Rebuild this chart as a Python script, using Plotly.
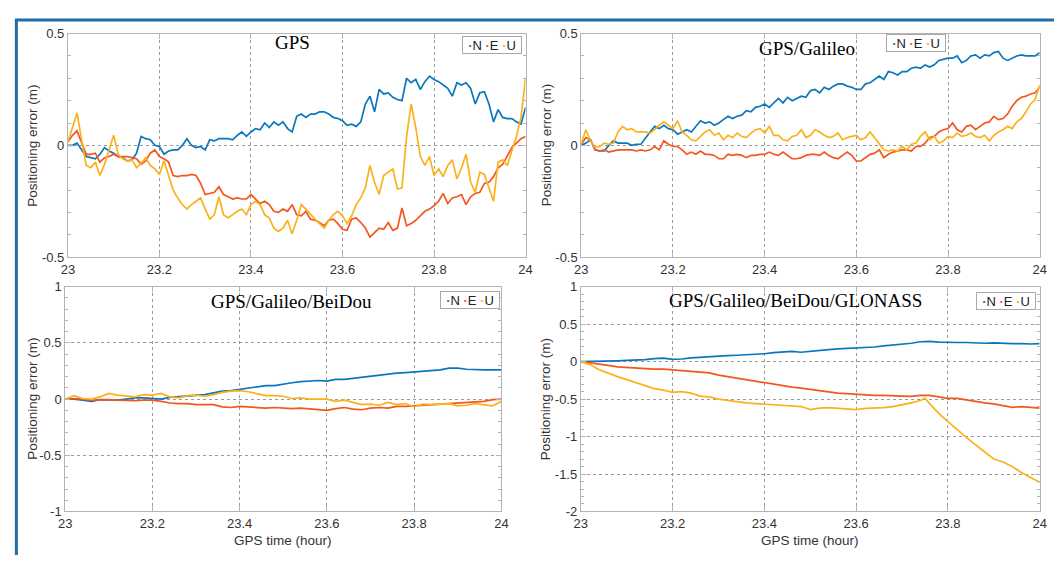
import numpy as np
import plotly.graph_objects as go

W, H = 1061, 563          # browser window (page has no margin)

# ---------------- data ----------------
t_top = list(np.round(np.arange(101) * 0.01 + 23.0, 2))
t_bot = list(np.round(np.arange(51) * 0.02 + 23.0, 2))
t_glo_u = t_bot[:38] + [23.75] + t_bot[38:]

gps_N = [0.00, 0.00, 0.01, -0.02, -0.05, -0.055, -0.06, -0.04, -0.01, -0.025,
         -0.035, -0.05, -0.055, -0.07, -0.065, -0.035, 0.04, 0.03, 0.025, 0.00,
         -0.005, -0.04, -0.025, -0.02, -0.02, 0.00, 0.03, 0.00, -0.01, -0.005,
         -0.02, 0.025, 0.02, 0.03, 0.03, 0.03, 0.025, 0.045, 0.06, 0.04,
         0.06, 0.075, 0.07, 0.10, 0.08, 0.105, 0.09, 0.105, 0.075, 0.06,
         0.13, 0.14, 0.125, 0.14, 0.14, 0.15, 0.15, 0.14, 0.125, 0.12,
         0.11, 0.09, 0.095, 0.085, 0.105, 0.185, 0.22, 0.15, 0.25, 0.23,
         0.235, 0.215, 0.205, 0.20, 0.30, 0.28, 0.295, 0.25, 0.285, 0.31,
         0.295, 0.285, 0.27, 0.255, 0.22, 0.28, 0.27, 0.28, 0.255, 0.185,
         0.235, 0.24, 0.185, 0.105, 0.16, 0.125, 0.12, 0.12, 0.105, 0.095,
         0.17]
gps_E = [0.015, 0.045, 0.065, 0.01, -0.04, -0.04, -0.035, -0.075, -0.055, -0.05,
         -0.04, -0.05, -0.05, -0.05, -0.055, -0.06, -0.085, -0.07, -0.035, -0.02,
         -0.05, -0.06, -0.075, -0.135, -0.14, -0.135, -0.135, -0.13, -0.135, -0.17,
         -0.22, -0.215, -0.21, -0.185, -0.22, -0.23, -0.24, -0.235, -0.24, -0.24,
         -0.22, -0.24, -0.26, -0.25, -0.265, -0.295, -0.30, -0.285, -0.295, -0.265,
         -0.31, -0.315, -0.295, -0.33, -0.335, -0.345, -0.36, -0.335, -0.33, -0.35,
         -0.375, -0.38, -0.33, -0.325, -0.345, -0.37, -0.41, -0.39, -0.37, -0.375,
         -0.345, -0.38, -0.37, -0.28, -0.36, -0.35, -0.335, -0.315, -0.295, -0.285,
         -0.27, -0.25, -0.215, -0.26, -0.235, -0.23, -0.22, -0.265, -0.23, -0.215,
         -0.21, -0.17, -0.165, -0.14, -0.10, -0.085, -0.05, -0.01, 0.01, 0.03,
         0.04]
gps_U = [0.015, 0.08, 0.145, 0.025, -0.09, -0.10, -0.075, -0.135, -0.085, -0.02,
         0.045, -0.04, -0.06, -0.07, -0.065, -0.10, -0.08, -0.055, -0.09, -0.105,
         -0.13, -0.07, -0.135, -0.20, -0.235, -0.265, -0.285, -0.265, -0.25, -0.235,
         -0.285, -0.33, -0.31, -0.23, -0.31, -0.325, -0.31, -0.295, -0.285, -0.31,
         -0.265, -0.25, -0.265, -0.31, -0.325, -0.37, -0.385, -0.37, -0.335, -0.395,
         -0.335, -0.265, -0.285, -0.31, -0.33, -0.35, -0.37, -0.335, -0.31, -0.295,
         -0.315, -0.35, -0.315, -0.265, -0.235, -0.19, -0.09, -0.165, -0.22, -0.135,
         -0.12, -0.105, -0.195, -0.19, 0.04, 0.185, 0.08, -0.05, -0.09, -0.05,
         -0.135, -0.105, -0.14, -0.09, -0.065, -0.15, -0.10, -0.04, -0.165, -0.21,
         -0.12, -0.13, -0.19, -0.25, -0.075, -0.065, -0.09, -0.02, 0.04, 0.125,
         0.30]

gal_N = [0.00, 0.01, 0.025, -0.02, -0.025, -0.025, 0.00, 0.02, 0.01, 0.01,
         0.01, 0.00, 0.005, 0.005, 0.035, 0.06, 0.085, 0.075, 0.09, 0.075,
         0.07, 0.05, 0.06, 0.07, 0.06, 0.085, 0.11, 0.10, 0.105, 0.09,
         0.10, 0.115, 0.13, 0.12, 0.13, 0.135, 0.155, 0.15, 0.17, 0.175,
         0.185, 0.17, 0.19, 0.21, 0.19, 0.215, 0.20, 0.21, 0.22, 0.215,
         0.245, 0.25, 0.235, 0.26, 0.25, 0.265, 0.275, 0.275, 0.265, 0.26,
         0.25, 0.25, 0.275, 0.28, 0.295, 0.31, 0.295, 0.33, 0.325, 0.315,
         0.33, 0.33, 0.345, 0.35, 0.345, 0.36, 0.35, 0.36, 0.38, 0.385,
         0.39, 0.39, 0.40, 0.37, 0.38, 0.40, 0.405, 0.39, 0.405, 0.40,
         0.415, 0.42, 0.39, 0.38, 0.39, 0.40, 0.405, 0.40, 0.40, 0.40,
         0.415]
gal_E = [0.005, 0.035, 0.025, -0.02, -0.025, -0.02, -0.03, -0.025, -0.02, -0.02,
         -0.02, -0.02, -0.025, -0.02, -0.025, -0.02, -0.005, -0.02, 0.02, 0.005,
         -0.005, -0.005, -0.02, -0.04, -0.03, -0.04, -0.025, -0.04, -0.04, -0.045,
         -0.06, -0.06, -0.04, -0.045, -0.04, -0.045, -0.055, -0.045, -0.045, -0.04,
         -0.04, -0.03, -0.04, -0.045, -0.03, -0.045, -0.06, -0.06, -0.055, -0.045,
         -0.04, -0.04, -0.045, -0.03, -0.045, -0.055, -0.06, -0.045, -0.03, -0.045,
         -0.07, -0.07, -0.055, -0.04, -0.035, -0.02, -0.055, -0.04, -0.03, -0.025,
         -0.02, -0.02, -0.025, -0.005, -0.005, 0.01, 0.035, 0.04, 0.06, 0.07,
         0.075, 0.10, 0.07, 0.06, 0.085, 0.09, 0.07, 0.085, 0.10, 0.105,
         0.13, 0.115, 0.12, 0.14, 0.175, 0.20, 0.215, 0.22, 0.23, 0.235,
         0.26]
gal_U = [0.01, 0.07, 0.02, -0.01, -0.005, 0.01, 0.005, 0.01, 0.06, 0.085,
         0.07, 0.075, 0.06, 0.06, 0.06, 0.055, 0.07, 0.09, 0.105, 0.09,
         0.075, 0.11, 0.06, 0.045, 0.025, 0.02, 0.04, 0.06, 0.07, 0.045,
         0.055, 0.025, 0.045, 0.035, 0.055, 0.04, 0.035, 0.055, 0.07, 0.075,
         0.055, 0.085, 0.045, 0.045, 0.025, 0.02, 0.04, 0.045, 0.07, 0.035,
         0.045, 0.07, 0.06, 0.045, 0.035, 0.04, 0.055, 0.025, 0.035, 0.04,
         0.045, 0.025, 0.035, 0.06, 0.035, 0.01, -0.02, -0.025, -0.02, -0.025,
         -0.005, -0.02, 0.005, 0.01, 0.04, 0.06, 0.025, 0.04, 0.01, 0.02,
         0.04, 0.035, 0.055, 0.04, 0.045, 0.055, 0.04, 0.035, 0.045, 0.02,
         0.045, 0.06, 0.07, 0.085, 0.075, 0.105, 0.12, 0.15, 0.185, 0.205,
         0.27]

bd_N = [0.00, 0.00, -0.01, -0.02, -0.005, -0.005, -0.01, 0.00, 0.01, 0.01,
        0.005, 0.00, 0.015, 0.02, 0.025, 0.03, 0.04, 0.055, 0.07, 0.075,
        0.085, 0.095, 0.11, 0.12, 0.12, 0.135, 0.145, 0.155, 0.16, 0.165,
        0.16, 0.175, 0.175, 0.185, 0.19, 0.205, 0.21, 0.22, 0.23, 0.235,
        0.24, 0.245, 0.25, 0.26, 0.275, 0.275, 0.265, 0.26, 0.26, 0.26,
        0.26]
bd_E = [0.00, 0.005, 0.00, -0.01, -0.01, -0.005, -0.01, -0.015, -0.015, -0.01,
        -0.01, -0.02, -0.035, -0.04, -0.04, -0.05, -0.05, -0.05, -0.07, -0.075,
        -0.065, -0.07, -0.075, -0.08, -0.075, -0.08, -0.085, -0.08, -0.085, -0.09,
        -0.10, -0.085, -0.075, -0.09, -0.095, -0.08, -0.075, -0.08, -0.065, -0.065,
        -0.06, -0.055, -0.055, -0.05, -0.045, -0.04, -0.03, -0.03, -0.02, -0.005,
        0.00]
bd_U = [0.00, 0.03, 0.005, 0.00, 0.02, 0.05, 0.035, 0.03, 0.02, 0.04,
        0.035, 0.05, 0.02, 0.01, 0.03, 0.035, 0.025, 0.04, 0.06, 0.07,
        0.075, 0.065, 0.05, 0.03, 0.03, 0.025, 0.005, 0.01, 0.00, 0.00,
        0.00, -0.02, -0.01, -0.03, -0.05, -0.045, -0.055, -0.03, -0.05, -0.04,
        -0.07, -0.045, -0.05, -0.045, -0.04, -0.06, -0.055, -0.04, -0.05, -0.06,
        -0.02]

glo_N = [0.00, 0.00, 0.00, 0.00, 0.01, 0.015, 0.02, 0.025, 0.04, 0.045,
         0.03, 0.035, 0.05, 0.06, 0.065, 0.07, 0.08, 0.085, 0.09, 0.10,
         0.105, 0.12, 0.13, 0.135, 0.125, 0.14, 0.155, 0.16, 0.17, 0.175,
         0.185, 0.19, 0.195, 0.21, 0.22, 0.235, 0.245, 0.265, 0.27, 0.26,
         0.255, 0.255, 0.255, 0.245, 0.245, 0.25, 0.24, 0.24, 0.24, 0.235,
         0.24]
glo_E = [0.00, -0.02, -0.04, -0.05, -0.07, -0.08, -0.09, -0.10, -0.10, -0.10,
         -0.11, -0.12, -0.13, -0.14, -0.15, -0.18, -0.20, -0.23, -0.25, -0.27,
         -0.29, -0.31, -0.32, -0.34, -0.355, -0.37, -0.38, -0.405, -0.42, -0.43,
         -0.44, -0.44, -0.45, -0.45, -0.45, -0.46, -0.465, -0.45, -0.45, -0.475,
         -0.49, -0.49, -0.51, -0.535, -0.55, -0.565, -0.59, -0.61, -0.60, -0.61,
         -0.62]
glo_U = [0.00, -0.04, -0.11, -0.16, -0.20, -0.24, -0.28, -0.31, -0.36, -0.38,
         -0.41, -0.40, -0.42, -0.46, -0.47, -0.50, -0.52, -0.53, -0.55, -0.56,
         -0.57, -0.575, -0.585, -0.59, -0.60, -0.64, -0.62, -0.615, -0.625, -0.63,
         -0.64, -0.625, -0.62, -0.615, -0.60, -0.58, -0.55, -0.52,
         -0.49,
         -0.56, -0.69, -0.80, -0.91, -1.01, -1.11, -1.21, -1.30, -1.34, -1.40,
         -1.48, -1.54, -1.61]

titles = ["GPS", "GPS/Galileo", "GPS/Galileo/BeiDou", "GPS/Galileo/BeiDou/GLONASS"]
series_names = ["N", "E", "U"]
x_ticks = [23, 23.2, 23.4, 23.6, 23.8, 24]
x_ticktext = ["23", "23.2", "23.4", "23.6", "23.8", "24"]
y_ticks_top = [-0.5, 0, 0.5]
y_ticks_bl = [-1, -0.5, 0, 0.5, 1]
y_ticks_br = [-2, -1.5, -1, -0.5, 0, 0.5, 1]
ylabel = "Positioning error (m)"
xlabel = "GPS time (hour)"

# ---------------- style ----------------
COLORS = ["#0a77bd", "#f4561f", "#fbb21a"]
SANS = "Liberation Sans, Arial, sans-serif"
SERIF = "Liberation Serif, Times New Roman, serif"
TXT = "#333333"
FRAME = "#b4b4b4"
GRID = "#9a9a9a"


def px_x(p):
    """page pixel -> paper fraction"""
    return p / W


def px_y(p):
    return 1 - p / H


# panel boxes in page pixels: left, right, top, bottom
boxes = [
    (61.7, 525.5, 27.3, 257.0),
    (582.0, 1046.5, 27.3, 257.0),
    (59.0, 501.0, 287.3, 518.3),
    (581.5, 1046.5, 287.3, 518.3),
]
yranges = [[-0.5, 0.5], [-0.5, 0.5], [-1, 1], [-2, 1]]
yticks = [y_ticks_top, y_ticks_top, y_ticks_bl, y_ticks_br]
title_dx = [-4.6, -4, 8, -15]
title_dy = [9, 15, 15, 14]
ylab_dx = [36, 35, 34, 36]
leg_boxes = [(522, 30), (951.5, 28), (499.5, 291.7), (1043, 292.7)]

panels = [
    ([t_top, t_top, t_top], [gps_N, gps_E, gps_U]),
    ([t_top, t_top, t_top], [gal_N, gal_E, gal_U]),
    ([t_bot, t_bot, t_bot], [bd_N, bd_E, bd_U]),
    ([t_bot, t_bot, t_glo_u], [glo_N, glo_E, glo_U]),
]

fig = go.Figure()
layout = dict(
    width=W, height=H, margin=dict(l=0, r=0, t=0, b=0),
    paper_bgcolor="white", plot_bgcolor="white", showlegend=False,
)

annotations = []
for i, (box, yr, yt, (xs, ys)) in enumerate(zip(boxes, yranges, yticks, panels)):
    n = "" if i == 0 else str(i + 1)
    xa, ya = "x" + n, "y" + n
    l, r, t, b = box
    layout["xaxis" + n] = dict(
        domain=[px_x(l), px_x(r)], range=[23, 24], anchor=ya,
        tickmode="array", tickvals=x_ticks, ticktext=x_ticktext,
        ticks="inside", ticklen=5, tickcolor=FRAME, tickwidth=1,
        showline=True, linecolor=FRAME, linewidth=1, mirror="allticks",
        showgrid=True, gridcolor=GRID, griddash="dot", gridwidth=1,
        zeroline=False, tickfont=dict(family=SANS, size=13, color=TXT),
    )
    layout["yaxis" + n] = dict(
        domain=[px_y(b), px_y(t)], range=yr, anchor=xa,
        tickmode="array", tickvals=yt, ticktext=["%g" % v for v in yt],
        ticks="inside", ticklen=5, tickcolor=FRAME, tickwidth=1,
        showline=True, linecolor=FRAME, linewidth=1, mirror="allticks",
        showgrid=True, gridcolor=GRID, griddash="dot", gridwidth=1,
        zeroline=False, tickfont=dict(family=SANS, size=13, color=TXT),
        minor=dict(tickmode="linear", tick0=0, dtick=0.1, ticks="inside",
                   ticklen=3, tickcolor=FRAME, showgrid=False),
    )
    for k in range(3):
        fig.add_trace(go.Scatter(
            x=xs[k], y=ys[k], mode="lines", name=series_names[k],
            line=dict(color=COLORS[k], width=1.7),
            xaxis=xa, yaxis=ya,
        ))
    # panel title
    annotations.append(dict(
        xref="paper", yref="paper", x=px_x((l + r) / 2 + title_dx[i]),
        y=px_y(t + title_dy[i]), xanchor="center", yanchor="middle",
        text=titles[i], showarrow=False,
        font=dict(family=SERIF, size=19, color="black"),
    ))
    # legend box
    leg = " ".join(
        '<b><span style="color:%s">·</span></b>%s' % (COLORS[k], series_names[k])
        for k in range(3))
    lr, lt = leg_boxes[i]
    annotations.append(dict(
        xref="paper", yref="paper", x=px_x(lr), y=px_y(lt),
        xanchor="right", yanchor="top", text=leg, showarrow=False,
        width=58, height=16, bordercolor="#a8a8a8", borderwidth=1,
        borderpad=0, bgcolor="white",
        font=dict(family=SANS, size=13, color="#222222"),
    ))
    # y axis title
    annotations.append(dict(
        xref="paper", yref="paper", x=px_x(l - ylab_dx[i]), y=px_y((t + b) / 2),
        xanchor="center", yanchor="middle", text=ylabel, textangle=-90,
        showarrow=False, font=dict(family=SANS, size=13.5, color=TXT),
    ))
    if i >= 2:
        annotations.append(dict(
            xref="paper", yref="paper", x=px_x((l + r) / 2), y=px_y(b + 30),
            xanchor="center", yanchor="middle", text=xlabel,
            showarrow=False, font=dict(family=SANS, size=13.5, color=TXT),
        ))

layout["annotations"] = annotations
layout["shapes"] = [
    dict(type="line", xref="paper", yref="paper", x0=px_x(9.5), x1=px_x(9.5),
         y0=0, y1=px_y(13.3), line=dict(color="#1f6ea8", width=3)),
    dict(type="line", xref="paper", yref="paper", x0=px_x(8), x1=1,
         y0=px_y(13.3), y1=px_y(13.3), line=dict(color="#1f6ea8", width=3)),
]
fig.update_layout(**layout)
fig.write_html("out.html")
